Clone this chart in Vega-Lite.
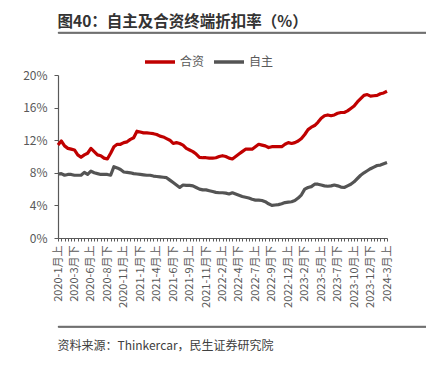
{
  "$schema": "https://vega.github.io/schema/vega-lite/v6.json",
  "padding": {"left": 20, "top": 14, "right": 10, "bottom": 5},
  "config": {
    "font": "Noto Sans CJK SC",
    "view": {"stroke": null}
  },
  "spacing": 11,
  "resolve": {"legend": {"color": "independent"}},
  "data": {"values": [
    {"t":"2020-1月上","合资":11.4,"自主":7.85},
    {"t":"2020-1月下","合资":11.9,"自主":7.9},
    {"t":"2020-2月上","合资":11.3,"自主":7.7},
    {"t":"2020-2月下","合资":11.0,"自主":7.8},
    {"t":"2020-3月上","合资":10.9,"自主":7.8},
    {"t":"2020-3月下","合资":10.8,"自主":7.7},
    {"t":"2020-4月上","合资":10.2,"自主":7.7},
    {"t":"2020-4月下","合资":9.9,"自主":7.7},
    {"t":"2020-5月上","合资":10.2,"自主":8.05},
    {"t":"2020-5月下","合资":10.4,"自主":7.8},
    {"t":"2020-6月上","合资":11.0,"自主":8.2},
    {"t":"2020-6月下","合资":10.6,"自主":8.0},
    {"t":"2020-7月上","合资":10.2,"自主":7.9},
    {"t":"2020-7月下","合资":10.1,"自主":7.8},
    {"t":"2020-8月上","合资":9.8,"自主":7.8},
    {"t":"2020-8月下","合资":9.7,"自主":7.8},
    {"t":"2020-9月上","合资":10.4,"自主":7.7},
    {"t":"2020-9月下","合资":11.2,"自主":8.75},
    {"t":"2020-10月上","合资":11.5,"自主":8.6},
    {"t":"2020-10月下","合资":11.5,"自主":8.4},
    {"t":"2020-11月上","合资":11.7,"自主":8.1},
    {"t":"2020-11月下","合资":11.8,"自主":8.05},
    {"t":"2020-12月上","合资":12.1,"自主":8.0},
    {"t":"2020-12月下","合资":12.3,"自主":7.9},
    {"t":"2021-1月上","合资":13.1,"自主":7.85},
    {"t":"2021-1月下","合资":13.0,"自主":7.8},
    {"t":"2021-2月上","合资":12.9,"自主":7.75},
    {"t":"2021-2月下","合资":12.9,"自主":7.7},
    {"t":"2021-3月上","合资":12.85,"自主":7.7},
    {"t":"2021-3月下","合资":12.8,"自主":7.6},
    {"t":"2021-4月上","合资":12.7,"自主":7.55},
    {"t":"2021-4月下","合资":12.5,"自主":7.5},
    {"t":"2021-5月上","合资":12.4,"自主":7.45},
    {"t":"2021-5月下","合资":12.2,"自主":7.4},
    {"t":"2021-6月上","合资":12.0,"自主":7.1},
    {"t":"2021-6月下","合资":11.6,"自主":6.8},
    {"t":"2021-7月上","合资":11.7,"自主":6.5},
    {"t":"2021-7月下","合资":11.6,"自主":6.2},
    {"t":"2021-8月上","合资":11.4,"自主":6.5},
    {"t":"2021-8月下","合资":11.0,"自主":6.45},
    {"t":"2021-9月上","合资":10.8,"自主":6.45},
    {"t":"2021-9月下","合资":10.6,"自主":6.4},
    {"t":"2021-10月上","合资":10.3,"自主":6.2},
    {"t":"2021-10月下","合资":9.9,"自主":6.0},
    {"t":"2021-11月上","合资":9.85,"自主":5.9},
    {"t":"2021-11月下","合资":9.85,"自主":5.9},
    {"t":"2021-12月上","合资":9.8,"自主":5.8},
    {"t":"2021-12月下","合资":9.8,"自主":5.7},
    {"t":"2022-1月上","合资":9.85,"自主":5.6},
    {"t":"2022-1月下","合资":10.0,"自主":5.55},
    {"t":"2022-2月上","合资":10.1,"自主":5.55},
    {"t":"2022-2月下","合资":10.0,"自主":5.5},
    {"t":"2022-3月上","合资":9.8,"自主":5.4},
    {"t":"2022-3月下","合资":9.7,"自主":5.55},
    {"t":"2022-4月上","合资":10.0,"自主":5.4},
    {"t":"2022-4月下","合资":10.3,"自主":5.25},
    {"t":"2022-5月上","合资":10.6,"自主":5.1},
    {"t":"2022-5月下","合资":10.9,"自主":5.0},
    {"t":"2022-6月上","合资":10.9,"自主":4.9},
    {"t":"2022-6月下","合资":10.9,"自主":4.75},
    {"t":"2022-7月上","合资":11.2,"自主":4.65},
    {"t":"2022-7月下","合资":11.5,"自主":4.65},
    {"t":"2022-8月上","合资":11.4,"自主":4.6},
    {"t":"2022-8月下","合资":11.3,"自主":4.45},
    {"t":"2022-9月上","合资":11.1,"自主":4.2},
    {"t":"2022-9月下","合资":11.2,"自主":4.0},
    {"t":"2022-10月上","合资":11.2,"自主":4.05},
    {"t":"2022-10月下","合资":11.2,"自主":4.1},
    {"t":"2022-11月上","合资":11.2,"自主":4.2},
    {"t":"2022-11月下","合资":11.5,"自主":4.35},
    {"t":"2022-12月上","合资":11.7,"自主":4.4},
    {"t":"2022-12月下","合资":11.6,"自主":4.45},
    {"t":"2023-1月上","合资":11.7,"自主":4.6},
    {"t":"2023-1月下","合资":11.9,"自主":4.9},
    {"t":"2023-2月上","合资":12.2,"自主":5.3},
    {"t":"2023-2月下","合资":12.7,"自主":6.0},
    {"t":"2023-3月上","合资":13.3,"自主":6.2},
    {"t":"2023-3月下","合资":13.6,"自主":6.3},
    {"t":"2023-4月上","合资":13.8,"自主":6.6},
    {"t":"2023-4月下","合资":14.2,"自主":6.6},
    {"t":"2023-5月上","合资":14.7,"自主":6.5},
    {"t":"2023-5月下","合资":15.0,"自主":6.4},
    {"t":"2023-6月上","合资":15.1,"自主":6.35},
    {"t":"2023-6月下","合资":15.0,"自主":6.4},
    {"t":"2023-7月上","合资":15.1,"自主":6.5},
    {"t":"2023-7月下","合资":15.3,"自主":6.4},
    {"t":"2023-8月上","合资":15.4,"自主":6.25},
    {"t":"2023-8月下","合资":15.4,"自主":6.2},
    {"t":"2023-9月上","合资":15.6,"自主":6.4},
    {"t":"2023-9月下","合资":15.9,"自主":6.6},
    {"t":"2023-10月上","合资":16.2,"自主":6.9},
    {"t":"2023-10月下","合资":16.7,"自主":7.3},
    {"t":"2023-11月上","合资":17.1,"自主":7.7},
    {"t":"2023-11月下","合资":17.5,"自主":8.0},
    {"t":"2023-12月上","合资":17.6,"自主":8.25},
    {"t":"2023-12月下","合资":17.4,"自主":8.5},
    {"t":"2024-1月上","合资":17.45,"自主":8.7},
    {"t":"2024-1月下","合资":17.5,"自主":8.9},
    {"t":"2024-2月上","合资":17.7,"自主":8.95},
    {"t":"2024-2月下","合资":17.8,"自主":9.1},
    {"t":"2024-3月上","合资":18.0,"自主":9.25}
  ]},
  "vconcat": [
    {
      "width": 392,
      "height": 1,
      "view": {"stroke": "#333333", "strokeWidth": 0.8},
      "title": {
        "text": "图40：自主及合资终端折扣率（%）",
        "anchor": "start",
        "fontSize": 15.5,
        "fontWeight": "bold",
        "color": "#333333",
        "offset": 1
      },
      "mark": {"type": "rule", "opacity": 0},
      "encoding": {}
    },
    {
      "spacing": 17,
      "resolve": {"legend": {"color": "independent"}},
      "vconcat": [
        {
          "width": 329,
          "height": 163,
          "transform": [{"fold": ["合资", "自主"], "as": ["s", "v"]}],
          "mark": {"type": "line", "strokeWidth": 3.2, "strokeJoin": "round"},
          "encoding": {
            "x": {
              "field": "t",
              "type": "ordinal",
              "sort": null,
              "scale": {"type": "point", "padding": 0},
              "axis": {
                "title": null,
                "labelAngle": -90,
                "labelOverlap": false,
                "labelExpr": "round(datum.index * 100) % 5 == 0 ? datum.label : ''",
                "labelFontSize": 11,
                "labelColor": "#595959",
                "labelPadding": 4,
                "tickSize": 3,
                "tickColor": "#595959",
                "domainColor": "#595959",
                "domainWidth": 1.2
              }
            },
            "y": {
              "field": "v",
              "type": "quantitative",
              "scale": {"domain": [0, 20]},
              "axis": {
                "title": null,
                "values": [0, 4, 8, 12, 16, 20],
                "labelExpr": "datum.value + '%'",
                "labelFontSize": 12,
                "labelColor": "#595959",
                "labelPadding": 7,
                "tickSize": 4,
                "tickColor": "#595959",
                "domainColor": "#595959",
                "domainWidth": 1.2,
                "grid": false,
                "minExtent": 38
              }
            },
            "color": {
              "field": "s",
              "type": "nominal",
              "scale": {"domain": ["合资", "自主"], "range": ["#C00000", "#545454"]},
              "legend": {
                "orient": "none",
                "legendX": 85,
                "legendY": -30,
                "title": null,
                "direction": "horizontal",
                "symbolType": "stroke",
                "symbolSize": 900,
                "symbolStrokeWidth": 3.5,
                "labelFontSize": 12,
                "labelColor": "#595959",
                "labelOffset": 3,
                "columnPadding": 2
              }
            }
          }
        },
        {
          "width": 392,
          "height": 1,
          "view": {"stroke": "#333333", "strokeWidth": 0.8},
          "title": {
            "text": "资料来源：Thinkercar，民生证券研究院",
            "orient": "bottom",
            "anchor": "start",
            "fontSize": 12,
            "fontWeight": "normal",
            "color": "#404040",
            "offset": 14
          },
          "mark": {"type": "rule", "opacity": 0},
          "encoding": {}
        }
      ]
    }
  ]
}
